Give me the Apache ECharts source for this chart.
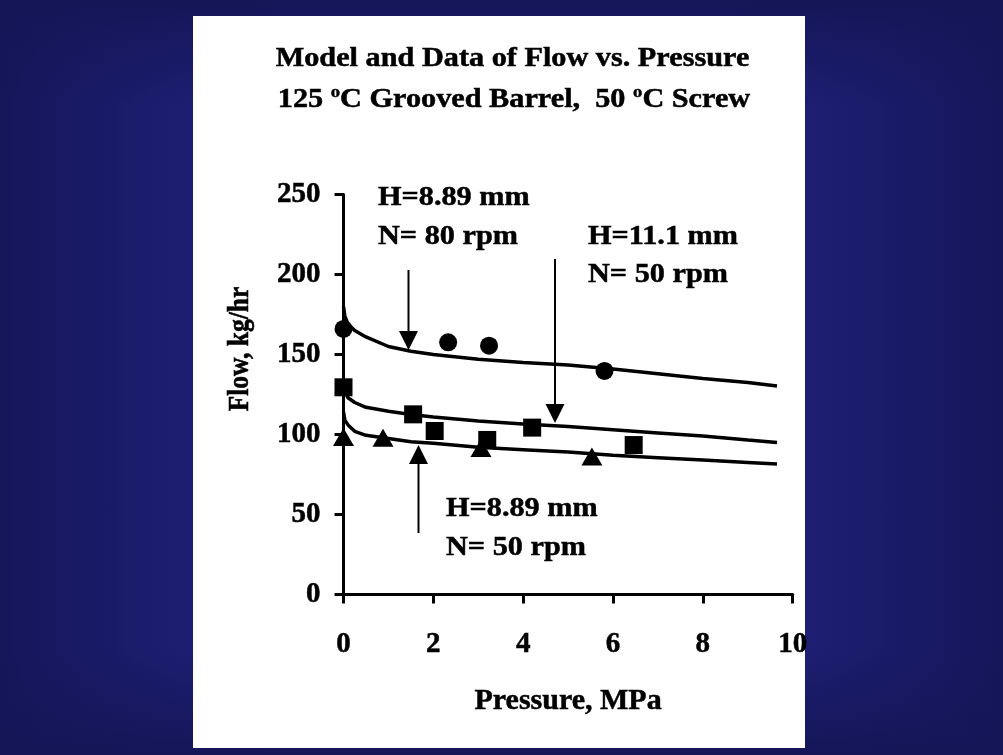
<!DOCTYPE html>
<html lang="en">
<head>
  <meta charset="UTF-8">
  <title>Flow vs. Pressure</title>
  <script src="https://cdn.jsdelivr.net/npm/echarts@6/dist/echarts.min.js"></script>
  <style>
    html, body { margin: 0; padding: 0; }
    body {
      width: 1003px; height: 755px; overflow: hidden; position: relative;
      background:
        linear-gradient(to bottom, rgba(21,22,88,1) 0%, rgba(21,22,88,0) 14%, rgba(21,22,88,0) 86%, rgba(21,22,88,1) 100%),
        linear-gradient(to right, #15165a 0%, #22237f 30%, #22237f 70%, #15165a 100%);
    }
    #panel { position: absolute; left: 193px; top: 16px; width: 612px; height: 732px; background: #fff; }
    #main { position: absolute; left: 0; top: 0; width: 1003px; height: 755px; }
  </style>
</head>
<body>
<div id="panel"></div>
<div id="main"></div>
</body>
</html>
<script>
  //测量数据 H=8.89 mm, N=80 rpm (圆点)
  const pressureCircle = [0, 2.33, 3.24, 5.81];
  const flowCircle = [166, 157.6, 155.5, 139.7];
  //H=11.1 mm, N=50 rpm (方块)
  const pressureSquare = [0, 1.55, 2.03, 3.2, 4.2, 6.46];
  const flowSquare = [129.5, 112.6, 102.2, 96.6, 104.3, 93.4];
  //H=8.89 mm, N=50 rpm (三角)
  const pressureTriangle = [0, 0.88, 3.06, 5.53];
  const flowTriangle = [98.5, 98, 91.6, 86.2];
  //模型曲线
  const modelPressure = [0, 0.03, 0.1, 0.25, 0.5, 1, 1.5, 2, 3, 4, 5, 6, 7, 8, 9, 9.65];
  const modelTop = [180, 174, 169, 165, 161, 155, 152, 150, 147, 145, 143.5, 141, 138, 135, 132.5, 130.3];
  const modelMid = [132, 127, 123, 120, 117, 114.5, 112.5, 111, 108.5, 106.5, 105, 103, 101, 99, 96.5, 95];
  const modelBot = [114, 109, 106, 102, 99.5, 97.5, 95.5, 94.5, 92, 90.5, 89, 87, 85.5, 84, 82.5, 81.5];
  const xTicks = [0, 10, 2];
  const yTicks = [0, 250, 50];

  const font = 'Liberation Serif';
  const pair = (xs, ys) => xs.map((x, i) => [x, ys[i]]);

  function modelLine(values) {
    return {
      type: 'line', data: pair(modelPressure, values), showSymbol: false, symbol: 'none',
      lineStyle: { color: '#000', width: 3.5 }, silent: true, z: 3
    };
  }
  function points(xs, ys, symbol, size) {
    return {
      type: 'scatter', data: pair(xs, ys), symbol: symbol, symbolSize: size,
      itemStyle: { color: '#000', opacity: 1 }, clip: false, z: 4
    };
  }
  function textStyle(text, align) {
    return { text: text, x: 0, y: 0, align: align || 'left', verticalAlign: 'middle',
      fontFamily: font, fontWeight: 'bold', fontSize: 27.5, fill: '#000', stroke: '#000', lineWidth: 0.5 };
  }
  function label(text, x, y) {
    return { type: 'text', x: x, y: y, scaleX: 1.1, z: 100, style: textStyle(text) };
  }
  function arrow(x, y1, y2) {
    const dir = y2 > y1 ? 1 : -1;
    return [
      { type: 'line', z: 100, shape: { x1: x, y1: y1, x2: x, y2: y2 - dir * 18 }, style: { stroke: '#000', lineWidth: 2 } },
      { type: 'polygon', z: 100, shape: { points: [[x - 9.5, y2 - dir * 19], [x + 9.5, y2 - dir * 19], [x, y2]] }, style: { fill: '#000' } }
    ];
  }

  const axisText = { color: '#000', fontFamily: font, fontWeight: 'bold', fontSize: 29, textBorderColor: '#000', textBorderWidth: 0.5 };

  //上标 o
  const subTitle = textStyle('125 {s|o}C Grooved Barrel,  50 {s|o}C Screw', 'center');
  subTitle.rich = { s: { fontFamily: font, fontWeight: 'bold', fontSize: 17, fill: '#000', stroke: '#000', lineWidth: 0.4, lineHeight: 17, padding: [0, 0, 15, 0] } };

  let option = {
    animation: false,
    grid: { left: 343.5, top: 194.5, width: 449.2, height: 400 },
    xAxis: {
      type: 'value', min: xTicks[0], max: xTicks[1], interval: xTicks[2],
      name: 'Pressure, MPa', nameLocation: 'middle', nameGap: 92,
      nameTextStyle: { color: '#000', fontFamily: font, fontWeight: 'bold', fontSize: 30, textBorderColor: '#000', textBorderWidth: 0.5 },
      axisLine: { lineStyle: { color: '#000', width: 3 } },
      axisTick: { length: 9, lineStyle: { color: '#000', width: 3 } },
      axisLabel: Object.assign({ margin: 36 }, axisText),
      splitLine: { show: false }
    },
    yAxis: {
      type: 'value', min: yTicks[0], max: yTicks[1], interval: yTicks[2],
      axisLine: { show: true, lineStyle: { color: '#000', width: 3 } },
      axisTick: { show: true, length: 9, lineStyle: { color: '#000', width: 3 } },
      axisLabel: Object.assign({ margin: 23 }, axisText),
      splitLine: { show: false }
    },
    series: [
      modelLine(modelTop),
      modelLine(modelMid),
      modelLine(modelBot),
      points(pressureCircle, flowCircle, 'circle', 18),
      points(pressureSquare, flowSquare, 'rect', 18),
      points(pressureTriangle, flowTriangle, 'triangle', [21, 18])
    ],
    graphic: [
      { type: 'text', x: 512.5, y: 59, scaleX: 1.1, z: 100, style: textStyle('Model and Data of Flow vs. Pressure', 'center') },
      { type: 'text', x: 514, y: 100, scaleX: 1.1, z: 100, style: subTitle },
      {
        type: 'text', x: 241, y: 349, rotation: Math.PI / 2, scaleY: 1.12, z: 100,
        style: Object.assign(textStyle('Flow, kg/hr', 'center'), { fontSize: 25.5 })
      },
      label('H=8.89 mm', 378, 198),
      label('N= 80 rpm', 378, 237),
      label('H=11.1 mm', 588, 237),
      label('N= 50 rpm', 588, 275),
      label('H=8.89 mm', 446, 509),
      label('N= 50 rpm', 446, 548)
    ].concat(arrow(408.5, 270, 350), arrow(555, 259, 423), arrow(418.5, 533, 445))
  };

  let myChart = echarts.init(document.getElementById('main'), null, { renderer: 'canvas' });
  myChart.setOption(option);
</script>
